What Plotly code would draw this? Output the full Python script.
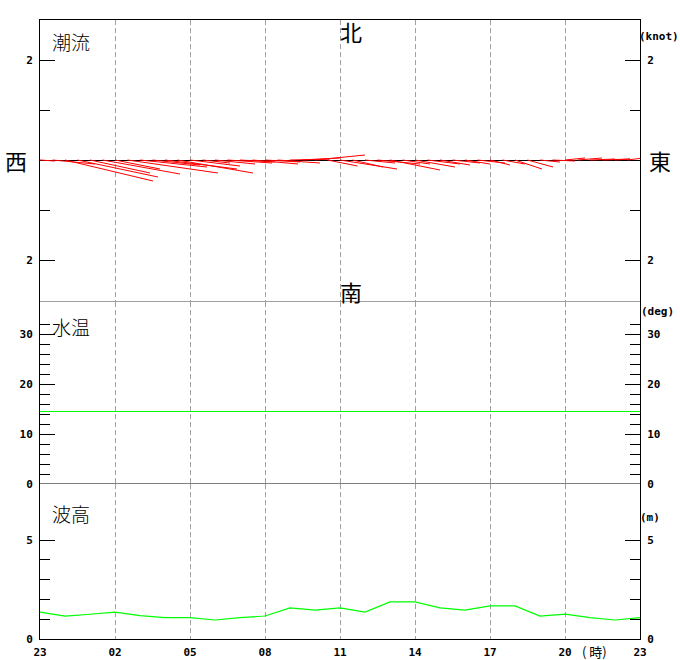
import plotly.graph_objects as go

# ---------------- data ----------------
HOUR_TICKS = [0, 3, 6, 9, 12, 15, 18, 21, 24]
HOUR_LABELS = ["23", "02", "05", "08", "11", "14", "17", "20", "23"]
GRID_HOURS = [3, 6, 9, 12, 15, 18, 21]

# tidal current, every 30 min (hours since 23:00), east / north components in knots
CUR_T = [0.0, 0.5, 1.0, 1.5, 2.0, 2.5, 3.0, 3.5, 4.0, 4.5, 5.0, 5.5,
         6.0, 6.5, 7.0, 7.5, 8.0, 8.5, 9.0, 9.5, 10.0, 10.5, 11.0, 11.5,
         12.0, 12.5, 13.0, 13.5, 14.0, 14.5, 15.0, 15.5, 16.0, 16.5, 17.0, 17.5,
         18.0, 18.5, 19.0, 19.5, 20.0, 20.5, 21.0, 21.5, 22.0, 22.5, 23.0, 23.5]
CUR_EAST = [0.30, 0.85, 1.76, 1.61, 1.20, 1.55, 0.90, 1.81, 1.34, 0.95, 1.44, 1.51,
            1.00, 0.55, 0.80, 0.89, 0.70, 0.91, 0.70, 0.85, 0.80, 0.75, 1.00, 0.60,
            1.14, 0.61, 0.60, 0.85, 1.00, 0.55, 0.80, 0.65, 0.60, 0.55, 0.50, 0.55,
            0.40, 0.45, 0.54, 0.51, 0.40, 0.45, 0.40, 0.49, 0.50, 0.55, 0.30, 0.31]
CUR_NORTH = [-0.02, -0.08, -0.42, -0.34, -0.26, -0.28, -0.18, -0.26, -0.14, -0.10, -0.18, -0.26,
             -0.12, -0.06, -0.08, -0.06, -0.04, -0.08, -0.04, -0.06, 0.02, 0.04, 0.10, -0.12,
             -0.18, -0.14, -0.06, -0.08, -0.20, -0.08, -0.14, -0.08, -0.10, -0.06, -0.08, -0.06,
             -0.10, -0.08, -0.18, -0.14, -0.04, -0.02, 0.04, 0.04, 0.02, 0.02, 0.02, 0.04]

# hourly water temperature (deg) and wave height (m)
HOURS = list(range(25))
TEMP = [14.5, 14.5, 14.5, 14.5, 14.5, 14.5, 14.5, 14.5, 14.5, 14.5, 14.5, 14.5, 14.5,
        14.5, 14.5, 14.5, 14.5, 14.5, 14.5, 14.5, 14.5, 14.5, 14.5, 14.5, 14.5]
WAVE = [1.36, 1.16, 1.25, 1.36, 1.18, 1.08, 1.08, 0.96, 1.08, 1.16, 1.57, 1.46, 1.57,
        1.36, 1.87, 1.87, 1.57, 1.46, 1.67, 1.67, 1.16, 1.26, 1.08, 0.96, 1.08]

# ---------------- layout geometry (screen pixels) ----------------
W, H = 680, 660
X_LEFT, X_RIGHT = 40, 640    # x of plot frame
Y_TOP, Y_BOT = 20, 639       # y of plot frame
Y_WAVE_TOP = 484
Y_TEMP_TOP = 302
Y_CUR_ZERO = 160
ML, MT = X_LEFT, Y_TOP
MR = W - X_RIGHT
MB = H - Y_BOT
PW, PH = X_RIGHT - X_LEFT, Y_BOT - Y_TOP
d1 = (Y_BOT - Y_WAVE_TOP) / PH
d2 = (Y_BOT - Y_TEMP_TOP) / PH
WAVE_RANGE = [0, (Y_BOT - Y_WAVE_TOP) / 19.8]
TEMP_RANGE = [0, (Y_WAVE_TOP - Y_TEMP_TOP) / 5.0]
CUR_RANGE = [-(Y_TEMP_TOP - Y_CUR_ZERO) / 50.0, (Y_CUR_ZERO - Y_TOP) / 50.0]
X_RANGE = [0, 24]


def px(xp, yp):
    return (xp - X_LEFT) / PW, (Y_BOT - yp) / PH


# ratio converting knots (y scale) to hours (x scale) so vectors keep true direction
px_per_hour = PW / (X_RANGE[1] - X_RANGE[0])
px_per_knot = (Y_TEMP_TOP - Y_TOP) / (CUR_RANGE[1] - CUR_RANGE[0])
ratio = px_per_knot / px_per_hour

vx, vy = [], []
for t, u, v in zip(CUR_T, CUR_EAST, CUR_NORTH):
    vx += [t, t + u * ratio, None]
    vy += [0, v, None]

MONO = dict(family="DejaVu Sans Mono", size=11, color="black", weight="bold")
CJK = "Noto Sans CJK JP"
GRID = "#a0a0a0"
GREEN = "#00ff00"

fig = go.Figure()
fig.add_trace(go.Scatter(x=vx, y=vy, mode="lines", xaxis="x3", yaxis="y3",
                         line=dict(color="#ff0000", width=1), hoverinfo="skip"))
fig.add_trace(go.Scatter(x=HOURS, y=TEMP, mode="lines", xaxis="x2", yaxis="y2",
                         line=dict(color=GREEN, width=1.2), hoverinfo="skip"))
fig.add_trace(go.Scatter(x=HOURS, y=WAVE, mode="lines", xaxis="x", yaxis="y",
                         line=dict(color=GREEN, width=1.2), hoverinfo="skip"))
fig.add_trace(go.Scatter(x=[], y=[], xaxis="x", yaxis="y4", hoverinfo="skip"))
fig.add_trace(go.Scatter(x=[], y=[], xaxis="x2", yaxis="y5", hoverinfo="skip"))
fig.add_trace(go.Scatter(x=[], y=[], xaxis="x3", yaxis="y6", hoverinfo="skip"))


def yax(domain, rng, tickvals, ticktext, minor_vals, side="left", overlay=None,
        anchor=None, zeroline=False):
    d = dict(range=rng, side=side, showline=True, linecolor="black", linewidth=1,
             ticks="inside", ticklen=15, tickwidth=1, tickcolor="black",
             tickmode="array", tickvals=tickvals, ticktext=ticktext, automargin=False,
             tickfont=MONO, showgrid=False, zeroline=zeroline, zerolinecolor="black",
             zerolinewidth=1, ticklabelstandoff=4, fixedrange=True,
             minor=dict(tickmode="array", tickvals=minor_vals, ticks="inside",
                        ticklen=10, tickwidth=1, tickcolor="black", showgrid=False))
    if overlay:
        d["overlaying"] = overlay
        d["anchor"] = anchor
    else:
        d["domain"] = domain
    return d


wave_ticks = dict(tickvals=[0, 5], ticktext=["0", "5"], minor_vals=[1, 2, 3, 4])
temp_ticks = dict(tickvals=[0, 10, 20, 30], ticktext=["0", "10", "20", "30"],
                  minor_vals=[2, 4, 6, 8, 12, 14, 16, 18, 22, 24, 26, 28, 32])
cur_ticks = dict(tickvals=[-2, 2], ticktext=["2", "2"], minor_vals=[-1, 1])

xcommon = dict(range=X_RANGE, showgrid=True, gridcolor=GRID, griddash="5px,3px",
               gridwidth=1, zeroline=False, ticks="", fixedrange=True, automargin=False)

fig.update_layout(
    width=W, height=H, autosize=False,
    margin=dict(l=ML, r=MR, t=MT, b=MB, pad=0),
    paper_bgcolor="white", plot_bgcolor="white", showlegend=False,
    xaxis=dict(**xcommon, anchor="y", tickmode="array", tickvals=HOUR_TICKS,
               ticktext=HOUR_LABELS, tickfont=MONO, showline=True, linecolor="black",
               linewidth=1, ticklabelstandoff=3),
    xaxis2=dict(**xcommon, anchor="y2", side="top", tickmode="array", tickvals=GRID_HOURS,
                showticklabels=False, showline=True, linecolor=GRID, linewidth=1),
    xaxis3=dict(**xcommon, anchor="y3", side="top", tickmode="array", tickvals=GRID_HOURS,
                showticklabels=False, showline=True, linecolor="black", linewidth=1),
    yaxis=yax([0, d1], WAVE_RANGE, **wave_ticks),
    yaxis2=yax([d1, d2], TEMP_RANGE, **temp_ticks),
    yaxis3=yax([d2, 1], CUR_RANGE, zeroline=True, **cur_ticks),
    yaxis4=yax(None, WAVE_RANGE, side="right", overlay="y", anchor="x", **wave_ticks),
    yaxis5=yax(None, TEMP_RANGE, side="right", overlay="y2", anchor="x2", **temp_ticks),
    yaxis6=yax(None, CUR_RANGE, side="right", overlay="y3", anchor="x3", **cur_ticks),
)

# black separator between the water-temperature and wave-height panels (temp = 0 line)
fig.add_shape(type="line", xref="x2", yref="y2", x0=X_RANGE[0], x1=X_RANGE[1],
              y0=TEMP_RANGE[0], y1=TEMP_RANGE[0], line=dict(color="black", width=1),
              layer="above")

LIGHT = dict(family=CJK, size=19, color="black", weight=300)
BIG = dict(family=CJK, size=22, color="black")
anns = [
    ("潮流", 71, 42, LIGHT),
    ("水温", 71, 327, LIGHT),
    ("波高", 71, 513, LIGHT),
    ("北", 351, 31, BIG),
    ("南", 351, 291, BIG),
    ("西", 16, 160, BIG),
    ("東", 660, 160, BIG),
    ("(knot)", 659, 37, MONO),
    ("(deg)", 657, 311, MONO),
    ("(m)", 650, 517, MONO),
    ("( 時)", 594, 651, dict(family=CJK, size=13, color="black")),
]
for text, xp, yp, font in anns:
    ax_, ay_ = px(xp, yp)
    fig.add_annotation(text=text, x=ax_, y=ay_, xref="paper", yref="paper",
                       showarrow=False, font=font, xanchor="center", yanchor="middle")

fig.write_html("out.html",
               config={"displayModeBar": False, "staticPlot": True},
               post_script="document.body.style.margin='0';"
                           "document.body.style.overflow='hidden';")
